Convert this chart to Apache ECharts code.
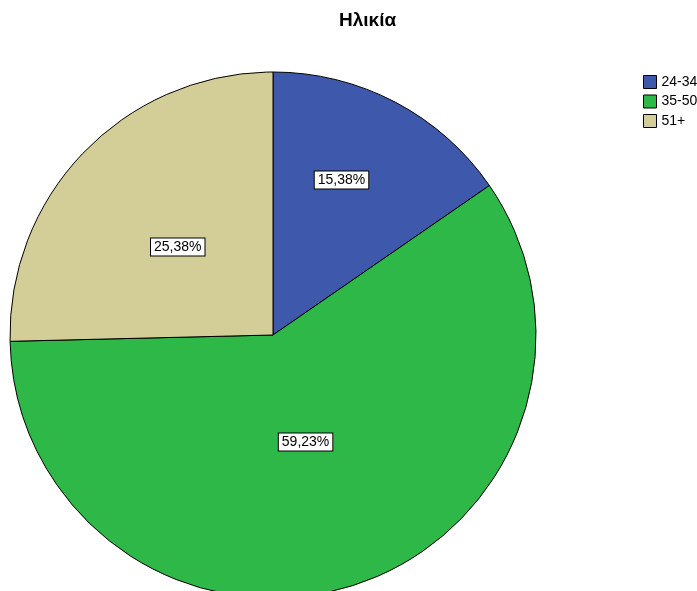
<!DOCTYPE html>
<html>
<head>
<meta charset="utf-8">
<script src="https://cdn.jsdelivr.net/npm/echarts@6/dist/echarts.min.js"></script>
<style>
  html, body { margin: 0; padding: 0; background: #fff; }
  #chart { width: 697px; height: 591px; }
</style>
</head>
<body>
<div id="chart"></div>
<script>
const categories = ['24-34', '35-50', '51+']
const values = [15.38, 59.23, 25.38]
const colors = ['#3e58ac', '#2eb848', '#d3ce97']
// label nudges (SPSS doesn't put them at the half radius)
const labelShift = [[6, -36], [-9, -21], [1, 6]]

const chart = echarts.init(document.getElementById('chart'))

chart.setOption({
  backgroundColor: '#fff',
  animation: false,
  title: {
    text: 'Ηλικία',
    left: 339,
    top: 11,
    padding: 0,
    textStyle: { fontFamily: 'Liberation Sans, Arial', fontSize: 19, fontWeight: 'bold', color: '#000' }
  },
  legend: {
    orient: 'vertical',
    left: 643,
    top: 75,
    padding: 0,
    icon: 'rect',
    itemWidth: 13,
    itemHeight: 13,
    itemGap: 5.5,
    itemStyle: { borderColor: '#000', borderWidth: 1 },
    textStyle: { fontFamily: 'Liberation Sans, Arial', fontSize: 14, lineHeight: 13, color: '#000' },
    data: categories
  },
  series: [{
    type: 'pie',
    center: [273, 335],
    radius: 263,
    startAngle: 90,
    clockwise: true,
    silent: true,
    itemStyle: { borderColor: '#000', borderWidth: 1 },
    label: {
      position: 'inside',
      formatter: p => p.value.toFixed(2).replace('.', ',') + '%',
      fontFamily: 'Liberation Sans, Arial',
      fontSize: 14,
      color: '#000',
      backgroundColor: '#fff',
      borderColor: '#000',
      borderWidth: 1,
      padding: [2, 3, 1, 3]
    },
    labelLayout: p => ({ dx: labelShift[p.dataIndex][0], dy: labelShift[p.dataIndex][1] }),
    data: categories.map((c, i) => ({ name: c, value: values[i], itemStyle: { color: colors[i] } }))
  }]
})
</script>
</body>
</html>
